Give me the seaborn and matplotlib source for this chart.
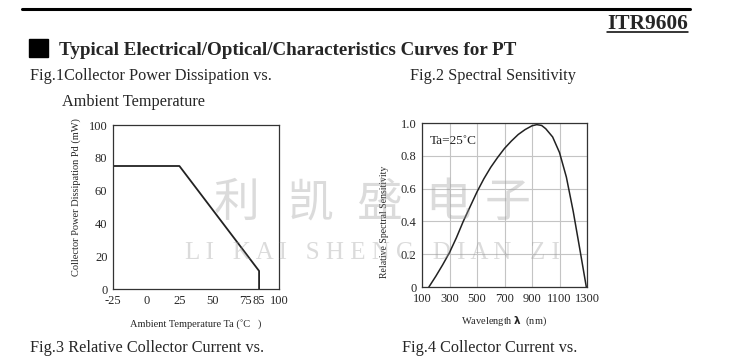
import numpy as np
import pandas as pd
import matplotlib
matplotlib.use("Agg")
import matplotlib.pyplot as plt
import seaborn as sns

# Fig.1 power dissipation curve
temp_c = [-25, 25, 85, 85]
power_mw = [75, 75, 11, 0]
temp_ticks = [-25, 0, 25, 50, 75, 85, 100]

# Fig.2 spectral sensitivity
wavelength_nm = [150, 200, 250, 300, 350, 400, 450, 500, 550, 600, 650, 700, 750,
                 800, 850, 900, 935, 970, 1000, 1050, 1100, 1150, 1200, 1250, 1295]
rel_sens = [0.00, 0.065, 0.135, 0.21, 0.30, 0.40, 0.49, 0.58, 0.66, 0.73, 0.79, 0.845, 0.89,
            0.93, 0.96, 0.983, 0.99, 0.985, 0.965, 0.915, 0.82, 0.67, 0.46, 0.22, 0.00]
wl_ticks = [100, 300, 500, 700, 900, 1100, 1300]
sens_ticks = [0, 0.2, 0.4, 0.6, 0.8, 1.0]
sens_labels = ["0", "0.2", "0.4", "0.6", "0.8", "1.0"]

sns.set_style("white")
plt.rcParams["font.family"] = ["Liberation Serif", "DejaVu Serif"]

W, H = 745, 360
fig = plt.figure(figsize=(W / 100, H / 100), dpi=100)


def box(l, t, r, b):
    return [l / W, 1 - b / H, (r - l) / W, (b - t) / H]


def px(x, y):
    return x / W, 1 - y / H


# header
fig.add_artist(plt.Line2D([22 / W, 690 / W], [1 - 9 / H] * 2, color="black", lw=2.2))
fig.text(*px(688, 29), "ITR9606", ha="right", va="baseline", fontsize=15.4, fontweight="bold")
fig.add_artist(plt.Line2D([607 / W, 688 / W], [1 - 32 / H] * 2, color="black", lw=1.1))
fig.add_artist(plt.Rectangle(px(29, 57), 19 / W, 18 / H, color="black"))
fig.text(*px(59, 55), "Typical Electrical/Optical/Characteristics Curves for PT",
         va="baseline", fontsize=13.7, fontweight="bold")
fig.text(*px(30, 80), "Fig.1Collector Power Dissipation vs.", va="baseline", fontsize=11.7)
fig.text(*px(62, 106), "Ambient Temperature", va="baseline", fontsize=11.7)
fig.text(*px(410, 80), "Fig.2 Spectral Sensitivity", va="baseline", fontsize=11.7)
fig.text(*px(30, 352), "Fig.3 Relative Collector Current vs.", va="baseline", fontsize=11.7)
fig.text(*px(402, 352), "Fig.4 Collector Current vs.", va="baseline", fontsize=11.7)

grid_kw = dict(color="#c4c4c4", lw=0.8)

# Fig.1
ax1 = fig.add_axes(box(113, 125, 279, 289))
df1 = pd.DataFrame({"Ta": temp_c, "Pd": power_mw})
sns.lineplot(data=df1, x="Ta", y="Pd", ax=ax1, sort=False, estimator=None,
             color="#222222", lw=1.3)
ax1.set_xlim(-25, 100)
ax1.set_ylim(0, 100)
ax1.set_xticks(temp_ticks)
ax1.set_xticklabels([str(t) for t in temp_ticks])
ax1.set_yticks([0, 20, 40, 60, 80, 100])
ax1.set_xticks([0, 25, 50, 75], minor=True)
ax1.set_yticks([20, 40, 60, 80], minor=True)
ax1.grid(False)
ax1.grid(which="minor", **grid_kw)
ax1.set_xlabel("Ambient Temperature Ta (˚C   )", fontsize=7.5)
ax1.set_ylabel("Collector Power Dissipation Pd (mW)", fontsize=7.5)
ax1.xaxis.set_label_coords(0.5, -0.185)
ax1.yaxis.set_label_coords(-0.19, 0.56)

# Fig.2
ax2 = fig.add_axes(box(422, 123, 587, 287))
df2 = pd.DataFrame({"wl": wavelength_nm, "s": rel_sens})
sns.lineplot(data=df2, x="wl", y="s", ax=ax2, sort=False, estimator=None,
             color="#222222", lw=1.1)
ax2.set_xlim(100, 1300)
ax2.set_ylim(0, 1.0)
ax2.set_xticks(wl_ticks)
ax2.set_yticks(sens_ticks)
ax2.set_yticklabels(sens_labels)
ax2.grid(True, **grid_kw)
ax2.text(0.05, 0.89, "Ta=25˚C", transform=ax2.transAxes, fontsize=9.5, va="center")
ax2.set_xlabel("Wavelength $\\mathbf{\\lambda}$  (nm)", fontsize=7.5)
ax2.set_ylabel("Relative Spectral Sensitivity", fontsize=7)
ax2.xaxis.set_label_coords(0.5, -0.17)
ax2.yaxis.set_label_coords(-0.2, 0.4)

for ax in (ax1, ax2):
    for s in ax.spines.values():
        s.set_color("#333333")
        s.set_linewidth(0.9)
    ax.tick_params(which="both", length=0, labelsize=9, pad=4)

# watermark
wm = dict(color="#9a9a9a", alpha=0.35, ha="center", va="center", zorder=10)
for ch, x in zip("利凯盛电子", [237, 310, 380, 448, 508]):
    fig.text(*px(x, 203), ch, fontsize=33, family=["Noto Sans CJK SC"], **wm)
fig.text(*px(372, 253), "L I   K A I   S H E N G   D I A N   Z I", fontsize=18, **wm)

fig.savefig("out.png", dpi=100)
